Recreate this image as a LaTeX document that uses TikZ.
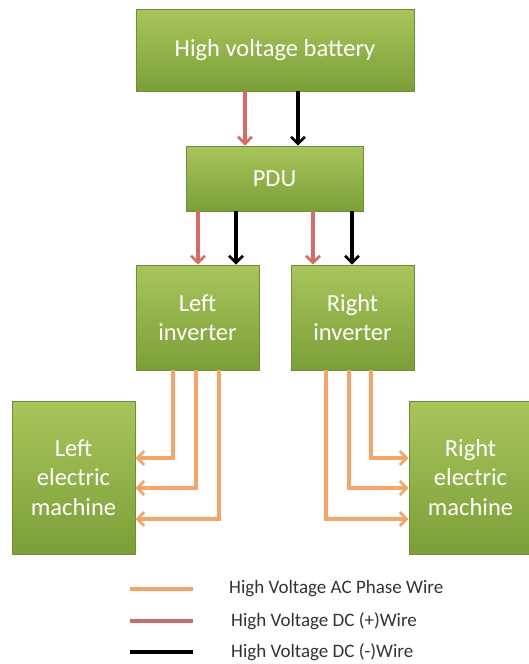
\documentclass[tikz,border=0pt]{standalone}
\usepackage{fontspec}
\setmainfont{Carlito}
\usetikzlibrary{arrows.meta}
\definecolor{gtop}{HTML}{A8C55C}
\definecolor{gbot}{HTML}{7B9F38}
\definecolor{gborder}{HTML}{6F8F35}
\definecolor{acwire}{HTML}{F4A56A}
\definecolor{dcpwire}{HTML}{D46C6A}
\definecolor{legtext}{HTML}{333333}
\tikzset{
  gbox/.style={rectangle, draw=gborder, line width=0.8pt, top color=gtop, bottom color=gbot,
    text=white, align=center, inner sep=0pt, font=\fontsize{24.5}{29.5}\selectfont},
  wire/.style={line width=3.4pt, -{Straight Barb[length=7pt,width=14pt,line width=2.6pt]}},
  acw/.style={wire, draw=acwire},
  dcp/.style={wire, draw=dcpwire},
  dcm/.style={wire, draw=black},
  legline/.style={line width=3.6pt},
  legtxt/.style={anchor=west, text=legtext, font=\fontsize{19}{22}\selectfont, inner sep=0pt}
}
\begin{document}
\begin{tikzpicture}[x=1pt,y=-1pt]
\useasboundingbox[fill=white] (0,0) rectangle (528,664);
% boxes
\node[gbox, minimum width=278pt, minimum height=82pt] (bat) at (275,50) {High voltage battery};
\node[gbox, minimum width=177pt, minimum height=65pt] (pdu) at (274.5,178.5) {PDU};
\node[gbox, minimum width=123pt, minimum height=105pt] (linv) at (197.5,317.5) {Left\\inverter};
\node[gbox, minimum width=123pt, minimum height=105pt] (rinv) at (352.5,317.5) {Right\\inverter};
\node[gbox, minimum width=123pt, minimum height=153pt] (lmac) at (73.5,477.5) {Left\\electric\\machine};
\node[gbox, minimum width=123pt, minimum height=153pt] (rmac) at (470.5,477.5) {Right\\electric\\machine};
% x positions of DC wires
\coordinate (xb1) at (245,0);
\coordinate (xb2) at (298,0);
\coordinate (xp1) at (198,0);
\coordinate (xp2) at (236,0);
\coordinate (xp3) at (313,0);
\coordinate (xp4) at (352,0);
\draw[dcp] (bat.south -| xb1) -- (pdu.north -| xb1);
\draw[dcm] (bat.south -| xb2) -- (pdu.north -| xb2);
\draw[dcp] (pdu.south -| xp1) -- (linv.north -| xp1);
\draw[dcm] (pdu.south -| xp2) -- (linv.north -| xp2);
\draw[dcp] (pdu.south -| xp3) -- (rinv.north -| xp3);
\draw[dcm] (pdu.south -| xp4) -- (rinv.north -| xp4);
% AC phase wires
\coordinate (l1) at (173,458);
\coordinate (l2) at (196,488);
\coordinate (l3) at (219,519);
\coordinate (r1) at (371,458);
\coordinate (r2) at (349,488);
\coordinate (r3) at (326,519);
\draw[acw] (linv.south -| l1) |- (lmac.east |- l1);
\draw[acw] (linv.south -| l2) |- (lmac.east |- l2);
\draw[acw] (linv.south -| l3) |- (lmac.east |- l3);
\draw[acw] (rinv.south -| r1) |- (rmac.west |- r1);
\draw[acw] (rinv.south -| r2) |- (rmac.west |- r2);
\draw[acw] (rinv.south -| r3) |- (rmac.west |- r3);
% legend
\coordinate (ga1) at (130,589); \coordinate (gb1) at (193,589);
\coordinate (ga2) at (130,621); \coordinate (gb2) at (193,621);
\coordinate (ga3) at (130,652); \coordinate (gb3) at (193,652);
\draw[legline, draw=acwire] (ga1) -- (gb1);
\draw[legline, draw=dcpwire!85!gray] (ga2) -- (gb2);
\draw[legline, draw=black] (ga3) -- (gb3);
\node[legtxt] (t1) at (229,589) {High Voltage AC Phase Wire};
\node[legtxt] (t2) at (231,621) {High Voltage DC (+)Wire};
\node[legtxt] (t3) at (231,652) {High Voltage DC (-)Wire};
\end{tikzpicture}
\end{document}
